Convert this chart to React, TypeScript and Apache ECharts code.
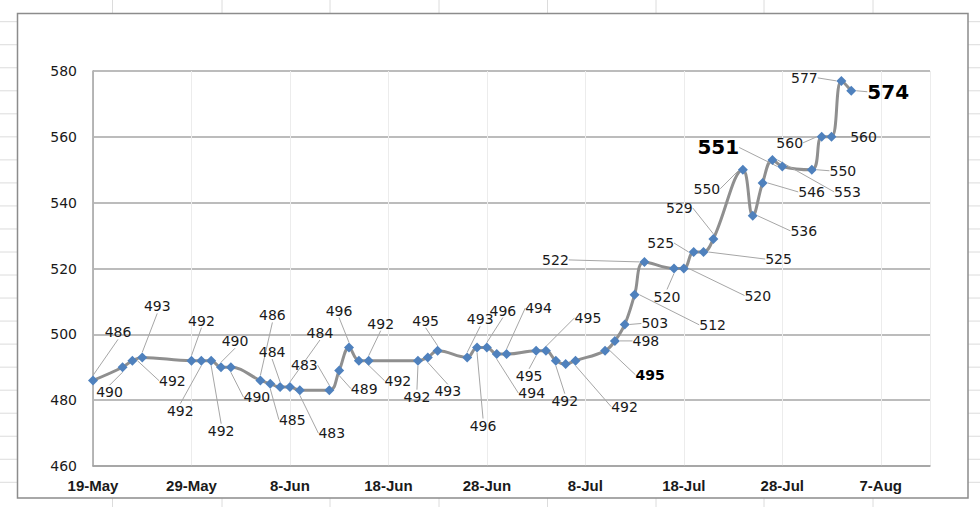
import React, { useEffect, useRef } from "react";
import * as echarts from "echarts";

// ---- data ----
const startDate = "2023-05-19";
const dates = [
  "2023-05-19", "2023-05-22", "2023-05-23", "2023-05-24",
  "2023-05-29", "2023-05-30", "2023-05-31", "2023-06-01", "2023-06-02",
  "2023-06-05", "2023-06-06", "2023-06-07", "2023-06-08", "2023-06-09",
  "2023-06-12", "2023-06-13", "2023-06-14", "2023-06-15", "2023-06-16",
  "2023-06-21", "2023-06-22", "2023-06-23",
  "2023-06-26", "2023-06-27", "2023-06-28", "2023-06-29", "2023-06-30",
  "2023-07-03", "2023-07-04", "2023-07-05", "2023-07-06", "2023-07-07",
  "2023-07-10", "2023-07-11", "2023-07-12", "2023-07-13", "2023-07-14",
  "2023-07-17", "2023-07-18", "2023-07-19", "2023-07-20", "2023-07-21",
  "2023-07-24", "2023-07-25", "2023-07-26", "2023-07-27", "2023-07-28",
  "2023-07-31", "2023-08-01", "2023-08-02", "2023-08-03", "2023-08-04",
];
const values = [
  486, 490, 492, 493,
  492, 492, 492, 490, 490,
  486, 485, 484, 484, 483,
  483, 489, 496, 492, 492,
  492, 493, 495,
  493, 496, 496, 494, 494,
  495, 495, 492, 491, 492,
  495, 498, 503, 512, 522,
  520, 520, 525, 525, 529,
  550, 536, 546, 553, 551,
  550, 560, 560, 577, 574,
];
const yTicks = [460, 480, 500, 520, 540, 560, 580];
const monthNames = ["Jan", "Feb", "Mar", "Apr", "May", "Jun", "Jul", "Aug", "Sep", "Oct", "Nov", "Dec"];

// label placement (offset of label centre from its point, px) — styling only
const labelOffsets: [number, number][] = [
  [25, -48], [-13, 25], [40, 20], [15, -51],
  [10, -40], [-21, 50], [10, 70], [14, -26], [26, 30],
  [12, -65], [22, 36], [-8, -35], [30, -54], [32, 43],
  [-25, -25], [25, 18], [-10, -37], [39, 20], [12, -37],
  [-1, 36], [20, 34], [-12, -30],
  [13, -38], [6, 78], [16, -37], [35, 39], [32, -46],
  [-7, 25], [42, -33], [9, 40], [0, 0], [49, 46],
  [45, 24], [31, 0], [30, -1], [78, 30], [-89, -2],
  [-7, 28], [74, 27], [-33, -9], [75, 7], [-34, -31],
  [-36, 19], [51, 15], [49, 9], [75, 32], [-64, -19],
  [31, 1], [-32, 6], [32, 0], [-37, -3], [37, 1],
];
const boldBig = new Set([46, 51]);
const boldSmall = new Set([32]);
const hiddenLabels = new Set([30]);

const DAY = 86400000;
const parse = (s: string) => {
  const [y, m, d] = s.split("-").map(Number);
  return Date.UTC(y, m - 1, d);
};
const base = parse(startDate);
const dayOffsets = dates.map((d) => Math.round((parse(d) - base) / DAY));

export default function App() {
  const ref = useRef<HTMLDivElement>(null);
  useEffect(() => {
    if (!ref.current) return;
    const chart = echarts.init(ref.current, undefined, { renderer: "svg" });

    const data = values.map((v, i) => {
      const item: any = { value: [dayOffsets[i], v] };
      if (boldBig.has(i)) item.label = { fontSize: 20, fontWeight: "bold", color: "#000" };
      if (boldSmall.has(i)) item.label = { fontWeight: "bold", color: "#000" };
      if (hiddenLabels.has(i)) item.label = { show: false };
      return item;
    });

    const graphics: any[] = [];
    const faint = { stroke: "#dcdcdc", lineWidth: 1 };
    const colXs = [112.5, 222, 330, 439, 547.5, 656, 764, 873];
    colXs.forEach((x) => {
      graphics.push({ type: "line", shape: { x1: x, y1: 0, x2: x, y2: 13 }, style: faint, silent: true });
      graphics.push({ type: "line", shape: { x1: x, y1: 498, x2: x, y2: 507 }, style: faint, silent: true });
    });
    for (let k = 0; k < 21; k++) {
      const y = 21.7 + 23.03 * k;
      graphics.push({ type: "line", shape: { x1: 0, y1: y, x2: 17, y2: y }, style: faint, silent: true });
      graphics.push({ type: "line", shape: { x1: 968, y1: y, x2: 980, y2: y }, style: faint, silent: true });
    }
    graphics.push({
      type: "rect",
      shape: { x: 17.5, y: 13.5, width: 950.5, height: 484.5 },
      style: { fill: "none", stroke: "#8c8c8c", lineWidth: 1.5 },
      silent: true,
    });

    chart.setOption({
      animation: false,
      backgroundColor: "#ffffff",
      graphic: graphics,
      grid: { left: 93, right: 50, top: 71, bottom: 41, containLabel: false },
      xAxis: {
        type: "value",
        min: 0,
        max: 85,
        interval: 10,
        axisLine: { show: true, lineStyle: { color: "#a0a0a0", width: 1.5 } },
        axisTick: { show: false },
        splitLine: { show: true, lineStyle: { color: "#ececec", width: 1 } },
        axisLabel: {
          showMaxLabel: false,
          margin: 12,
          fontFamily: "Liberation Sans",
          fontWeight: "bold",
          fontSize: 15,
          color: "#1a1a1a",
          formatter: (v: number) => {
            const d = new Date(base + v * DAY);
            return `${d.getUTCDate()}-${monthNames[d.getUTCMonth()]}`;
          },
        },
      },
      yAxis: {
        type: "value",
        min: yTicks[0],
        max: yTicks[yTicks.length - 1],
        interval: 20,
        axisLine: { show: true, lineStyle: { color: "#a0a0a0", width: 1.5 } },
        axisTick: { show: false },
        splitLine: { show: true, lineStyle: { color: "#a6a6a6", width: 1.5 } },
        axisLabel: {
          margin: 16,
          fontFamily: "DejaVu Sans",
          fontSize: 14,
          color: "#1a1a1a",
        },
      },
      series: [
        {
          type: "line",
          data,
          smooth: 0.4,
          symbol: "diamond",
          symbolSize: 10,
          itemStyle: { color: "#4f81bd" },
          lineStyle: { color: "#8f8f8f", width: 3 },
          label: {
            show: true,
            fontFamily: "DejaVu Sans",
            fontSize: 14,
            color: "#1a1a1a",
            formatter: (p: any) => String(p.value[1]),
          },
          labelLine: { show: true, lineStyle: { color: "#a6a6a6", width: 1 } },
          labelLayout: (p: any) => {
            const off = labelOffsets[p.dataIndex] || [0, -15];
            const cx = p.rect.x + p.rect.width / 2;
            const cy = p.rect.y + p.rect.height / 2;
            return {
              x: cx + off[0],
              y: cy + off[1],
              align: "center",
              verticalAlign: "middle",
            };
          },
          z: 3,
        },
      ],
    });
    return () => chart.dispose();
  }, []);
  return (
    <div
      ref={ref}
      style={{ position: "fixed", left: 0, top: 0, width: 980, height: 507 }}
    />
  );
}
